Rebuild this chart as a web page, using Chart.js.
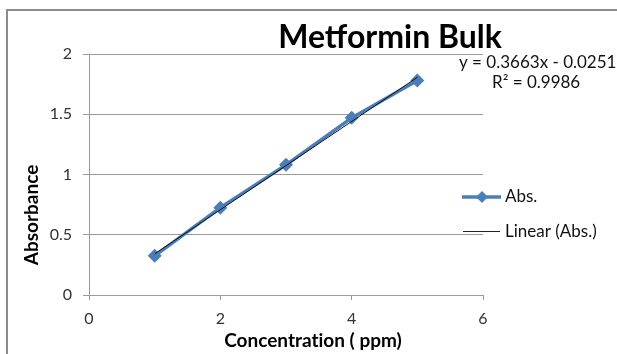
<!DOCTYPE html>
<html>
<head>
<meta charset="utf-8">
<script src="https://cdn.jsdelivr.net/npm/chart.js@4/dist/chart.umd.min.js"></script>
<style>
  html, body { margin: 0; padding: 0; background: #fff; }
  #box { width: 617px; height: 354px; position: relative; }
</style>
</head>
<body>
<div id="box"><canvas id="graphique"></canvas></div>
<script>
// --- data ---
const concentrations = [1, 2, 3, 4, 5];
const absorbance = [0.325, 0.725, 1.08, 1.47, 1.78];
const xTickValues = [0, 2, 4, 6];
const yTickValues = [0, 0.5, 1, 1.5, 2];
const slope = 0.3663;
const intercept = -0.0251;
const rSquared = 0.9986;

const FONT = "Lato, 'Open Sans', sans-serif";
const BLUE = "#4a7ebb";

const points = concentrations.map((c, i) => ({ x: c, y: absorbance[i] }));
const xFirst = concentrations[0];
const xLast = concentrations[concentrations.length - 1];
const trend = [
  { x: xFirst, y: slope * xFirst + intercept },
  { x: xLast, y: slope * xLast + intercept }
];

// texts, legend and frame drawn around the plot
const decorations = {
  id: "decorations",
  beforeDraw(chart) {
    const c = chart.ctx;
    c.save();
    c.fillStyle = "#fff";
    c.fillRect(0, 0, chart.width, chart.height);
    c.strokeStyle = "#8c8c8c";
    c.lineWidth = 2;
    c.beginPath();
    c.moveTo(7, chart.height);
    c.lineTo(7, 10);
    c.lineTo(chart.width, 10);
    c.stroke();
    c.restore();
  },
  afterDraw(chart) {
    const c = chart.ctx;
    c.save();
    c.fillStyle = "#000";
    c.textBaseline = "alphabetic";

    // title
    c.font = "bold 32px " + FONT;
    c.textAlign = "center";
    c.fillText("Metformin Bulk", 390, 48);

    // axis titles (ZWNJ keeps Lato from joining "ti")
    c.font = "bold 19px " + FONT;
    c.fillText("Concentrat\u200Cion ( ppm)", 313, 347);
    c.save();
    c.translate(38, 215);
    c.rotate(-Math.PI / 2);
    c.fillText("Absorbance", 0, 0);
    c.restore();

    // trendline equation
    c.font = "17px " + FONT;
    c.fillStyle = "#111";
    c.textAlign = "left";
    c.fillText("y = " + slope + "x - " + Math.abs(intercept), 459, 68);
    c.fillText("R\u00b2 = " + rSquared, 492, 88);

    // legend
    c.strokeStyle = BLUE;
    c.lineWidth = 3.5;
    c.beginPath();
    c.moveTo(462, 197);
    c.lineTo(501, 197);
    c.stroke();
    c.fillStyle = BLUE;
    c.beginPath();
    c.moveTo(482, 191);
    c.lineTo(488, 197);
    c.lineTo(482, 203);
    c.lineTo(476, 197);
    c.closePath();
    c.fill();
    c.strokeStyle = "#222";
    c.lineWidth = 1;
    c.beginPath();
    c.moveTo(463, 231.5);
    c.lineTo(500, 231.5);
    c.stroke();
    c.fillStyle = "#111";
    c.textBaseline = "middle";
    c.fillText("Abs.", 505, 197);
    c.fillText("Linear (Abs.)", 505, 232);
    c.restore();
  }
};

function createChart() {
  const ctx = document.getElementById("graphique");
  new Chart(ctx, {
    type: "scatter",
    data: {
      datasets: [
        {
          label: "Linear (Abs.)",
          data: trend,
          showLine: true,
          borderColor: "#111",
          borderWidth: 1,
          pointRadius: 0,
          order: 0
        },
        {
          label: "Abs.",
          data: points,
          showLine: true,
          borderColor: BLUE,
          backgroundColor: BLUE,
          borderWidth: 3.5,
          pointStyle: "rectRot",
          pointRadius: 7,
          pointBorderWidth: 0,
          order: 1
        }
      ]
    },
    options: {
      responsive: true,
      maintainAspectRatio: false,
      animation: false,
      layout: { padding: { left: 0, top: 54, right: 134, bottom: 0 } },
      plugins: {
        legend: { display: false },
        title: { display: false },
        tooltip: { enabled: false }
      },
      scales: {
        x: {
          type: "linear",
          min: 0,
          max: 6,
          afterBuildTicks: (s) => { s.ticks = xTickValues.map(v => ({ value: v })); },
          afterFit: (s) => { s.height = 59; },
          ticks: { color: "#333", font: { family: FONT, size: 16 }, padding: 9 },
          grid: { drawOnChartArea: false, drawTicks: true, tickLength: 5, color: "#9a9a9a" },
          border: { color: "#9a9a9a" }
        },
        y: {
          min: 0,
          max: 2,
          afterBuildTicks: (s) => { s.ticks = yTickValues.map(v => ({ value: v })); },
          afterFit: (s) => { s.width = 89; },
          ticks: {
            color: "#333",
            font: { family: FONT, size: 16 },
            padding: 11,
            callback: (v) => String(v)
          },
          grid: { color: "#9a9a9a", tickLength: 6 },
          border: { color: "#9a9a9a" }
        }
      }
    },
    plugins: [decorations]
  });
}

document.addEventListener("DOMContentLoaded", createChart);
</script>
</body>
</html>
